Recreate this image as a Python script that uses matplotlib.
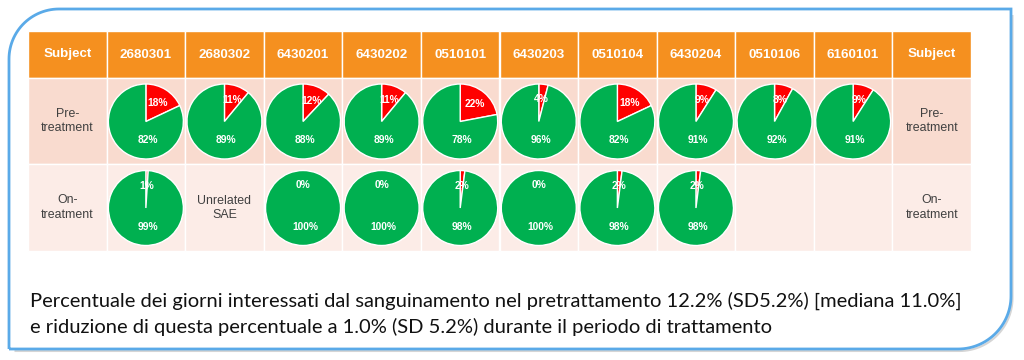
import numpy as np
import matplotlib.pyplot as plt
from matplotlib.patches import Rectangle, PathPatch
from matplotlib.path import Path

# dati
subjects = ['2680301', '2680302', '6430201', '6430202', '0510101',
            '6430203', '0510104', '6430204', '0510106', '6160101']
pre_bleeding = [18, 11, 12, 11, 22, 4, 18, 9, 8, 9]
on_bleeding = [1, None, 0, 0, 2, 0, 2, 2, None, None]
on_notes = ['', 'Unrelated\nSAE', '', '', '', '', '', '', '', '']
row_labels = ['Pre-\ntreatment', 'On-\ntreatment']
header_label = 'Subject'
caption = ['Percentuale dei giorni interessati dal sanguinamento nel pretrattamento 12.2% (SD5.2%) [mediana 11.0%]',
           'e riduzione di questa percentuale a 1.0% (SD 5.2%) durante il periodo di trattamento']

W, H = 1024, 360
ORANGE = '#F5901F'
ROW_BG = ['#F9DBCF', '#FCECE7']
RED = '#FF0000'
GREEN = '#00B050'
BLUE = '#5AAAE8'

fig = plt.figure(figsize=(W / 100, H / 100), dpi=100)
ax = fig.add_axes([0, 0, 1, 1])
ax.set_xlim(0, W)
ax.set_ylim(0, H)
ax.axis('off')


def Y(py):
    return H - py


# cornice blu con due angoli arrotondati
left, top, right, bottom = 9, 9, 1011, 349
r1, r2 = 50, 53
t = np.linspace(0, np.pi / 2, 30)
pts = []
pts += [(left, bottom), (left, top + r1)]
pts += [(left + r1 - r1 * np.cos(a), top + r1 - r1 * np.sin(a)) for a in t]
pts += [(right, top), (right, bottom - r2)]
pts += [(right - r2 + r2 * np.cos(a), bottom - r2 + r2 * np.sin(a)) for a in t]
pts += [(left, bottom)]
verts = [(x, Y(y)) for x, y in pts]
# ombra solo sul lato destro e in basso
sh = [(right, top + 4), (right, bottom - r2)]
sh += [(right - r2 + r2 * np.cos(a), bottom - r2 + r2 * np.sin(a)) for a in t]
sh += [(left + 4, bottom)]
shadow = [(x + 1.5, Y(y + 2)) for x, y in sh]
ax.add_patch(PathPatch(Path(shadow), fill=False, edgecolor='#d5d5d5', lw=1.5))
ax.add_patch(PathPatch(Path(verts), fill=False, edgecolor=BLUE, lw=2))

# tabella
tx0, tx1 = 28, 971
rows_y = [31, 78, 164, 251]
ncol = len(subjects) + 2
cw = (tx1 - tx0) / ncol

headers = [header_label] + subjects + [header_label]
for j, h in enumerate(headers):
    x = tx0 + j * cw
    ax.add_patch(Rectangle((x, Y(rows_y[1])), cw, rows_y[1] - rows_y[0],
                           facecolor=ORANGE, edgecolor='white', lw=1))
    ax.text(x + cw / 2, Y((rows_y[0] + rows_y[1]) / 2), h, ha='center', va='center',
            color='white', fontsize=9.6, fontweight='bold', family='Liberation Sans')

for i in range(2):
    ya, yb = rows_y[i + 1], rows_y[i + 2]
    for j in range(ncol):
        x = tx0 + j * cw
        ax.add_patch(Rectangle((x, Y(yb)), cw, yb - ya,
                               facecolor=ROW_BG[i], edgecolor='white', lw=1))
    for j in (0, ncol - 1):
        ax.text(tx0 + (j + 0.5) * cw, Y((ya + yb) / 2), row_labels[i], ha='center',
                va='center', color='#404040', fontsize=8.9, family='Liberation Sans',
                linespacing=1.25)

# torte
R = 37.5
series = [pre_bleeding, on_bleeding]
for i, vals in enumerate(series):
    cy = Y((rows_y[i + 1] + rows_y[i + 2]) / 2 + 0.5)
    for k, v in enumerate(vals):
        cx = tx0 + (k + 1.5) * cw
        if v is None:
            if i == 1 and on_notes[k]:
                ax.text(cx, cy, on_notes[k], ha='center', va='center', color='#404040',
                        fontsize=8.9, family='Liberation Sans', linespacing=1.25)
            continue
        ax.pie([v, 100 - v], colors=[RED, GREEN], startangle=90, counterclock=False,
               radius=R, center=(cx, cy), frame=True,
               wedgeprops=dict(edgecolor='white', linewidth=1))
        mid = np.deg2rad(90 - v * 3.6 / 2)
        ax.text(cx + 0.6 * R * np.cos(mid), cy + 0.6 * R * np.sin(mid), f'{v}%',
                ha='center', va='center', color='white', fontsize=7.4,
                fontweight='bold', family='Liberation Sans')
        ax.text(cx + 0.05 * R, cy - 0.5 * R, f'{100 - v}%', ha='center', va='center',
                color='white', fontsize=7.4, fontweight='bold', family='Liberation Sans')

ax.set_xlim(0, W)
ax.set_ylim(0, H)
ax.set_aspect('auto')
ax.axis('off')

# didascalia
t1 = ax.text(30, Y(301), caption[0], ha='left', va='center', color='#111111',
             fontsize=15, family='Lato')
t2 = ax.text(30, Y(327), caption[1], ha='left', va='center', color='#111111',
             fontsize=15, family='Lato')
fig.canvas.draw()
wpx = t1.get_window_extent().width
fs = 15 * 935 / wpx
t1.set_fontsize(fs)
t2.set_fontsize(fs)

fig.savefig('out.png', dpi=100)
